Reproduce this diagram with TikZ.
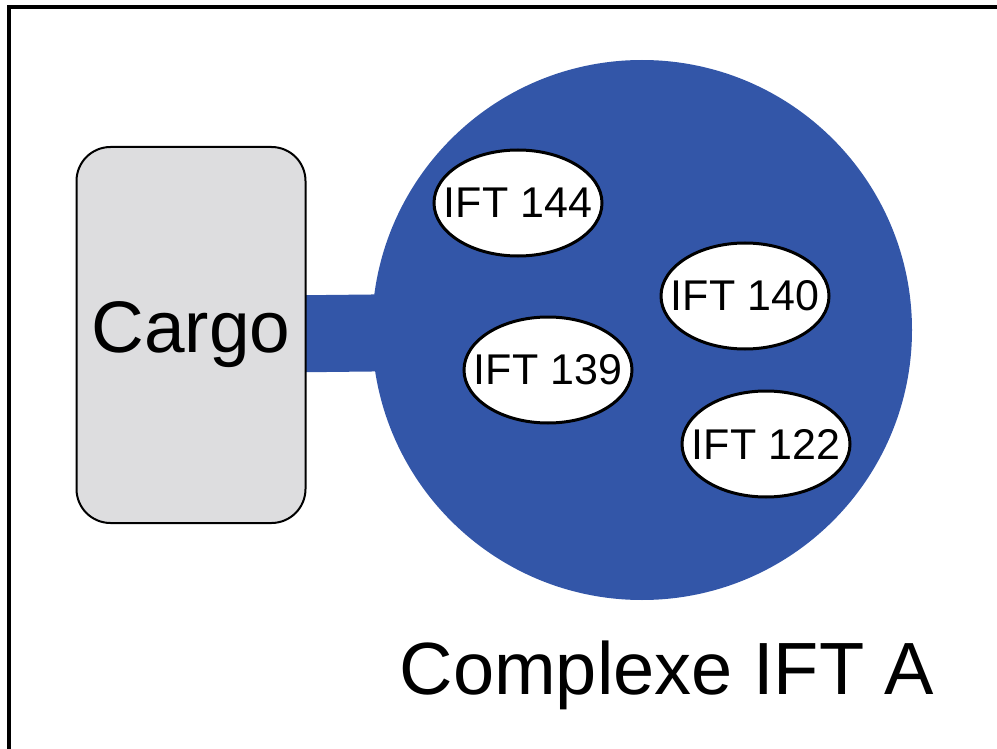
\documentclass[tikz,border=0pt]{standalone}
\usepackage{fontspec}
\setmainfont{Liberation Sans}
\usetikzlibrary{shapes.geometric,backgrounds}
\definecolor{hubblue}{RGB}{51,86,168}
\definecolor{cargogray}{RGB}{221,221,223}
\tikzset{
	ift/.style={ellipse, draw=black, fill=white, line width=3pt, minimum width=168pt, minimum height=106pt, inner xsep=-40pt, inner ysep=0pt, font=\fontsize{43}{48}\selectfont},
}
\begin{document}
\begin{tikzpicture}[x=1pt,y=-1pt]
		\useasboundingbox (0,0) rectangle (997,749);
		\draw [black, line width=3.5pt] (9,749) -- (9,7) -- (997,7);
		\node (cargo) [draw=black, fill=cargogray, line width=2pt, rounded corners=34pt, minimum width=229pt, minimum height=376pt, font=\fontsize{73}{80}\selectfont] at (191,335) {Cargo};
		\node (hub) [circle, fill=hubblue, minimum size=540pt, inner sep=0pt] at (642,330) {};
		\begin{scope}[on background layer]
		\draw [hubblue, line width=77pt] (cargo.center) -- (hub.center);
		\end{scope}
		\node (i144) [ift] at (518,203) {IFT 144};
		\node (i140) [ift] at (745,296) {IFT 140};
		\node (i139) [ift] at (548,370) {IFT 139};
		\node (i122) [ift] at (766,444) {IFT 122};
		\node (title) [font=\fontsize{74}{80}\selectfont] at (667,675) {Complexe IFT A};
	\end{tikzpicture}
\end{document}
